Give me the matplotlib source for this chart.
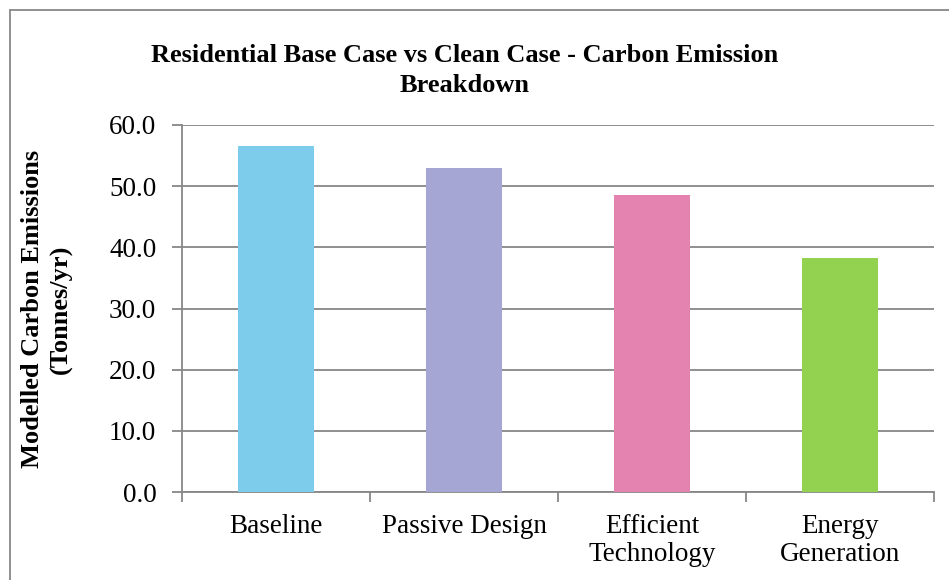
import matplotlib
matplotlib.use("Agg")
import matplotlib.pyplot as plt
from matplotlib.patches import Rectangle
import numpy as np

# Residential carbon emissions, tonnes per year
categories = ["Baseline", "Passive Design", "Efficient\nTechnology", "Energy\nGeneration"]
emissions = [56.6, 53.0, 48.6, 38.3]
bar_colors = ["#7ECCEC", "#A6A6D5", "#E482B0", "#93D150"]
y_ticks = [0, 10, 20, 30, 40, 50, 60]

plt.rcParams["font.family"] = ["Liberation Serif", "DejaVu Serif"]
grey = "#878787"

W, H = 949, 580
fig = plt.figure(figsize=(W / 100, H / 100), dpi=100)
ax = fig.add_axes([182 / W, 1 - 492 / H, (934 - 182) / W, (492 - 125) / H])

x = np.arange(len(categories))
ax.bar(x, emissions, width=0.405, color=bar_colors, zorder=3)

ax.set_xlim(-0.5, len(categories) - 0.5)
ax.set_ylim(0, 60)
ax.set_yticks(y_ticks)
ax.set_yticklabels([f"{v:.1f}" for v in y_ticks], fontsize=19.5)
ax.yaxis.grid(True, color=grey, linewidth=1.3, zorder=0)

# category labels sit between boundary tick marks
ax.set_xticks(x)
ax.set_xticklabels(categories, fontsize=19.5, linespacing=1.16)
ax.tick_params(axis="x", length=0, pad=15.5)
ax.set_xticks(np.arange(-0.5, len(categories)), minor=True)
ax.tick_params(axis="x", which="minor", length=7, width=1.3, color=grey)
ax.tick_params(axis="y", length=7, width=1.3, color=grey, pad=11.5)

for side in ["top", "right"]:
    ax.spines[side].set_visible(False)
for side in ["left", "bottom"]:
    ax.spines[side].set_color(grey)
    ax.spines[side].set_linewidth(1.3)

fig.text(47 / W, 1 - 309 / H, "Modelled Carbon Emissions\n(Tonnes/yr)",
         rotation=90, ha="center", va="center", fontsize=19, fontweight="bold",
         linespacing=1.34)

fig.text(465 / W, 1 - 70.5 / H,
         "Residential Base Case vs Clean Case - Carbon Emission\nBreakdown",
         ha="center", va="center", fontsize=19, fontweight="bold", linespacing=1.34)

# chart frame
fig.patches.append(Rectangle((10 / W, -0.02), 1.02, 1 - 10 / H + 0.02,
                             transform=fig.transFigure, fill=False,
                             edgecolor=grey, linewidth=1.3))

fig.savefig("out.png", dpi=100)
